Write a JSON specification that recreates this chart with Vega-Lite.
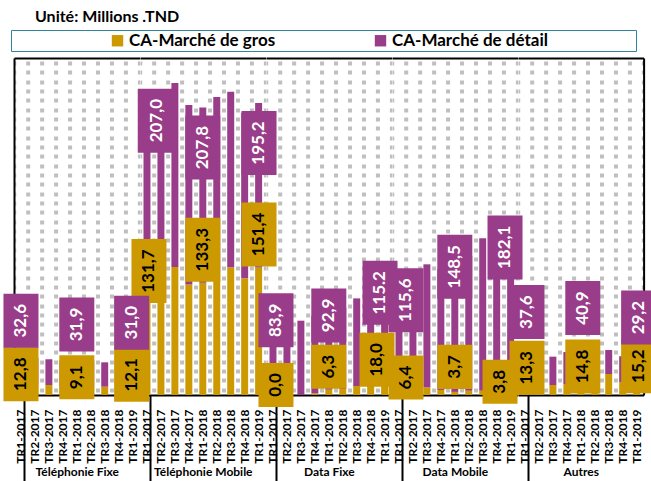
{
  "$schema": "https://vega.github.io/schema/vega-lite/v6.json",
  "background": "white",
  "padding": {"left": 3, "top": 8, "right": 4, "bottom": 0},
  "bounds": "flush",
  "title": {"text": "Unité: Millions .TND", "anchor": "start", "frame": "group", "font": "Lato", "fontSize": 16, "fontWeight": "bold", "color": "black", "dx": 21, "offset": 5},
  "data": {"values": [
    {"group": "Téléphonie Fixe", "q": "TR1-2017", "gros": 12.8, "detail": 32.6},
    {"group": "Téléphonie Fixe", "q": "TR2-2017", "gros": 12.0, "detail": 32.0},
    {"group": "Téléphonie Fixe", "q": "TR3-2017", "gros": 11.9, "detail": 30.5},
    {"group": "Téléphonie Fixe", "q": "TR4-2017", "gros": 10.0, "detail": 31.0},
    {"group": "Téléphonie Fixe", "q": "TR1-2018", "gros": 9.1, "detail": 31.9},
    {"group": "Téléphonie Fixe", "q": "TR2-2018", "gros": 10.0, "detail": 31.0},
    {"group": "Téléphonie Fixe", "q": "TR3-2018", "gros": 9.9, "detail": 28.9},
    {"group": "Téléphonie Fixe", "q": "TR4-2018", "gros": 11.0, "detail": 30.5},
    {"group": "Téléphonie Fixe", "q": "TR1-2019", "gros": 12.1, "detail": 31.0},
    {"group": "Téléphonie Mobile", "q": "TR1-2017", "gros": 131.7, "detail": 207.0},
    {"group": "Téléphonie Mobile", "q": "TR2-2017", "gros": 135.0, "detail": 210.0},
    {"group": "Téléphonie Mobile", "q": "TR3-2017", "gros": 152.0, "detail": 218.3},
    {"group": "Téléphonie Mobile", "q": "TR4-2017", "gros": 131.2, "detail": 213.0},
    {"group": "Téléphonie Mobile", "q": "TR1-2018", "gros": 133.3, "detail": 207.8},
    {"group": "Téléphonie Mobile", "q": "TR2-2018", "gros": 145.0, "detail": 208.7},
    {"group": "Téléphonie Mobile", "q": "TR3-2018", "gros": 151.6, "detail": 208.4},
    {"group": "Téléphonie Mobile", "q": "TR4-2018", "gros": 138.5, "detail": 196.5},
    {"group": "Téléphonie Mobile", "q": "TR1-2019", "gros": 151.4, "detail": 195.2},
    {"group": "Data Fixe", "q": "TR1-2017", "gros": 0.0, "detail": 83.9},
    {"group": "Data Fixe", "q": "TR2-2017", "gros": 0.0, "detail": 86.0},
    {"group": "Data Fixe", "q": "TR3-2017", "gros": 0.0, "detail": 88.2},
    {"group": "Data Fixe", "q": "TR4-2017", "gros": 2.0, "detail": 92.0},
    {"group": "Data Fixe", "q": "TR1-2018", "gros": 6.3, "detail": 92.9},
    {"group": "Data Fixe", "q": "TR2-2018", "gros": 7.0, "detail": 97.0},
    {"group": "Data Fixe", "q": "TR3-2018", "gros": 10.7, "detail": 104.0},
    {"group": "Data Fixe", "q": "TR4-2018", "gros": 15.0, "detail": 110.0},
    {"group": "Data Fixe", "q": "TR1-2019", "gros": 18.0, "detail": 115.2},
    {"group": "Data Mobile", "q": "TR1-2017", "gros": 6.4, "detail": 115.6},
    {"group": "Data Mobile", "q": "TR2-2017", "gros": 5.0, "detail": 120.0},
    {"group": "Data Mobile", "q": "TR3-2017", "gros": 9.1, "detail": 146.0},
    {"group": "Data Mobile", "q": "TR4-2017", "gros": 6.0, "detail": 143.5},
    {"group": "Data Mobile", "q": "TR1-2018", "gros": 3.7, "detail": 148.5},
    {"group": "Data Mobile", "q": "TR2-2018", "gros": 5.0, "detail": 160.0},
    {"group": "Data Mobile", "q": "TR3-2018", "gros": 5.0, "detail": 181.0},
    {"group": "Data Mobile", "q": "TR4-2018", "gros": 5.0, "detail": 185.0},
    {"group": "Data Mobile", "q": "TR1-2019", "gros": 3.8, "detail": 182.1},
    {"group": "Autres", "q": "TR1-2017", "gros": 13.3, "detail": 37.6},
    {"group": "Autres", "q": "TR2-2017", "gros": 12.0, "detail": 35.0},
    {"group": "Autres", "q": "TR3-2017", "gros": 11.9, "detail": 33.6},
    {"group": "Autres", "q": "TR4-2017", "gros": 13.0, "detail": 38.0},
    {"group": "Autres", "q": "TR1-2018", "gros": 14.8, "detail": 40.9},
    {"group": "Autres", "q": "TR2-2018", "gros": 14.0, "detail": 39.0},
    {"group": "Autres", "q": "TR3-2018", "gros": 24.9, "detail": 28.5},
    {"group": "Autres", "q": "TR4-2018", "gros": 15.0, "detail": 31.0},
    {"group": "Autres", "q": "TR1-2019", "gros": 15.2, "detail": 29.2}
  ]},
  "transform": [
    {"fold": ["gros", "detail"], "as": ["serie", "value"]},
    {"stack": "value", "groupby": ["group", "q"], "sort": [{"field": "serie", "order": "descending"}], "as": ["y0", "y1"]}
  ],
  "spacing": 0,
  "resolve": {"scale": {"color": "shared"}, "legend": {"color": "shared"}},
  "hconcat": [
    {
      "width": 125.6, "height": 337,
      "encoding": {
        "x": {"field": "q", "type": "nominal", "sort": ["TR1-2017","TR2-2017","TR3-2017","TR4-2017","TR1-2018","TR2-2018","TR3-2018","TR4-2018","TR1-2019"], "scale": {"paddingInner": 0.5, "paddingOuter": 0.25},
          "axis": {"title": "Téléphonie Fixe", "labelAngle": 270, "labelFont": "Lato", "labelFontWeight": "bold", "labelFontSize": 12, "labelColor": "black", "labelPadding": -72, "domainColor": "black", "domainWidth": 2, "tickBand": "extent", "tickSize": 86, "tickColor": "black", "tickWidth": 2, "tickOpacity": {"condition": {"test": "datum.value === 'TR1-2017'", "value": 1}, "value": 0}, "titleFont": "Lato", "titleFontWeight": "bold", "titleFontSize": 12, "titleColor": "black", "titleY": 71, "titleBaseline": "top", "grid": false}},
        "y": {"field": "y1", "type": "quantitative", "scale": {"domain": [0, 400]},
          "axis": {"minExtent": 0, "maxExtent": 0, "offset": 0, "values": [400,394.1,383.0,371.9,360.9,349.8,338.7,327.6,316.5,305.5,294.4,283.3,272.2,261.1,250.1,239.0,227.9,216.8,205.7,194.7,183.6,172.5,161.4,150.3,139.3,128.2,117.1,106.0,94.9,83.9,72.8,61.7,50.6,39.5,28.5,17.4,6.3], "domain": true, "domainColor": "black", "domainWidth": 2, "labels": false, "ticks": false, "title": null, "grid": true, "gridColor": {"condition": {"test": "datum.value === 400", "value": "black"}, "value": "#BFBFBF"}, "gridDash": {"condition": {"test": "datum.value === 400", "value": []}, "value": [4, 9.96]}, "gridWidth": {"condition": {"test": "datum.value === 400", "value": 2}, "value": 4}, "gridDashOffset": 2.26}}
      },
      "layer": [
        {"transform": [{"filter": "datum.group === 'Téléphonie Fixe'"}], "mark": {"type": "bar"}, "encoding": {"y2": {"field": "y0"}, "color": {"field": "serie", "type": "nominal", "scale": {"domain": ["gros", "detail"], "range": ["#CC9900", "#993C89"]},
          "legend": {"orient": "none", "legendX": -3, "legendY": -28, "direction": "horizontal", "title": "\u00a0", "titleOrient": "right", "titlePadding": 86, "titleFontSize": 17, "symbolType": "square", "symbolSize": 130, "symbolStrokeWidth": 0, "symbolOpacity": 1, "labelFont": "Lato", "labelFontWeight": "bold", "labelFontSize": 17, "labelColor": "black", "labelOffset": 3, "labelLimit": 500, "strokeColor": "#31849B", "fillColor": "white", "padding": 2, "symbolOffset": 96, "columnPadding": 0, "labelExpr": "datum.label === 'gros' ? 'CA-Marché de gros' : 'CA-Marché de détail'"}}}},
        {"transform": [{"filter": "datum.group === 'Téléphonie Fixe' && datum.serie === 'gros' && (datum.q === 'TR1-2017' || datum.q === 'TR1-2018')"}], "mark": {"type": "point", "filled": true, "opacity": 1, "size": 4096, "strokeWidth": 0, "color": "#CC9900", "yOffset": -10},
          "encoding": {"shape": {"condition": {"test": "datum.value >= 10", "value": "M-0.547,-0.844H0.547V0.844H-0.547Z"}, "value": "M-0.547,-0.688H0.547V0.688H-0.547Z"}}},
        {"transform": [{"filter": "datum.group === 'Téléphonie Fixe' && datum.serie === 'gros' && (datum.q === 'TR1-2017' || datum.q === 'TR1-2018')"}], "mark": {"type": "text", "angle": 270, "font": "Lato", "fontWeight": "bold", "fontSize": 17, "color": "black", "align": "center", "baseline": "middle", "yOffset": -10},
          "encoding": {"text": {"field": "value", "type": "quantitative", "format": ".1f"}}},
        {"transform": [{"filter": "datum.group === 'Téléphonie Fixe' && datum.serie === 'detail' && (datum.q === 'TR1-2017' || datum.q === 'TR1-2018')"}], "mark": {"type": "point", "filled": true, "opacity": 1, "size": 4096, "strokeWidth": 0, "color": "#993C89", "yOffset": -36},
          "encoding": {"shape": {"value": "M-0.547,-0.844H0.547V0.844H-0.547Z"}}},
        {"transform": [{"filter": "datum.group === 'Téléphonie Fixe' && datum.serie === 'detail' && (datum.q === 'TR1-2017' || datum.q === 'TR1-2018')"}], "mark": {"type": "text", "angle": 270, "font": "Lato", "fontWeight": "bold", "fontSize": 17, "color": "white", "align": "center", "baseline": "middle", "yOffset": -36},
          "encoding": {"text": {"field": "value", "type": "quantitative", "format": ".1f"}}}
      ]
    },
    {
      "width": 125.6, "height": 337,
      "encoding": {
        "x": {"field": "q", "type": "nominal", "sort": ["TR1-2017","TR2-2017","TR3-2017","TR4-2017","TR1-2018","TR2-2018","TR3-2018","TR4-2018","TR1-2019"], "scale": {"paddingInner": 0.5, "paddingOuter": 0.25},
          "axis": {"title": "Téléphonie Mobile", "labelAngle": 270, "labelFont": "Lato", "labelFontWeight": "bold", "labelFontSize": 12, "labelColor": "black", "labelPadding": -72, "domainColor": "black", "domainWidth": 2, "tickBand": "extent", "tickSize": 86, "tickColor": "black", "tickWidth": 2, "tickOpacity": {"condition": {"test": "datum.value === 'TR1-2017'", "value": 1}, "value": 0}, "titleFont": "Lato", "titleFontWeight": "bold", "titleFontSize": 12, "titleColor": "black", "titleY": 71, "titleBaseline": "top", "grid": false}},
        "y": {"field": "y1", "type": "quantitative", "scale": {"domain": [0, 400]},
          "axis": {"minExtent": 0, "maxExtent": 0, "offset": 0, "values": [400,394.1,383.0,371.9,360.9,349.8,338.7,327.6,316.5,305.5,294.4,283.3,272.2,261.1,250.1,239.0,227.9,216.8,205.7,194.7,183.6,172.5,161.4,150.3,139.3,128.2,117.1,106.0,94.9,83.9,72.8,61.7,50.6,39.5,28.5,17.4,6.3], "domain": false, "labels": false, "ticks": false, "title": null, "grid": true, "gridColor": {"condition": {"test": "datum.value === 400", "value": "black"}, "value": "#BFBFBF"}, "gridDash": {"condition": {"test": "datum.value === 400", "value": []}, "value": [4, 9.96]}, "gridWidth": {"condition": {"test": "datum.value === 400", "value": 2}, "value": 4}, "gridDashOffset": 2.26}}
      },
      "layer": [
        {"transform": [{"filter": "datum.group === 'Téléphonie Mobile'"}], "mark": {"type": "bar"}, "encoding": {"y2": {"field": "y0"}, "color": {"field": "serie", "type": "nominal", "scale": {"domain": ["gros", "detail"], "range": ["#CC9900", "#993C89"]},
          "legend": {"orient": "none", "legendX": -3, "legendY": -28, "direction": "horizontal", "title": "\u00a0", "titleOrient": "right", "titlePadding": 86, "titleFontSize": 17, "symbolType": "square", "symbolSize": 130, "symbolStrokeWidth": 0, "symbolOpacity": 1, "labelFont": "Lato", "labelFontWeight": "bold", "labelFontSize": 17, "labelColor": "black", "labelOffset": 3, "labelLimit": 500, "strokeColor": "#31849B", "fillColor": "white", "padding": 2, "symbolOffset": 96, "columnPadding": 0, "labelExpr": "datum.label === 'gros' ? 'CA-Marché de gros' : 'CA-Marché de détail'"}}}},
        {"transform": [{"filter": "datum.group === 'Téléphonie Mobile' && datum.serie === 'gros' && datum.q === 'TR1-2017'"}], "mark": {"type": "point", "filled": true, "opacity": 1, "size": 4096, "strokeWidth": 0, "color": "#CC9900", "yOffset": -13, "xOffset": 2},
          "encoding": {"shape": {"value": "M-0.547,-1H0.547V1H-0.547Z"}}},
        {"transform": [{"filter": "datum.group === 'Téléphonie Mobile' && datum.serie === 'gros' && datum.q === 'TR1-2017'"}], "mark": {"type": "text", "angle": 270, "font": "Lato", "fontWeight": "bold", "fontSize": 17, "color": "black", "align": "center", "baseline": "middle", "yOffset": -13, "xOffset": 2},
          "encoding": {"text": {"field": "value", "type": "quantitative", "format": ".1f"}}},
        {"transform": [{"filter": "datum.group === 'Téléphonie Mobile' && datum.serie === 'gros' && datum.q === 'TR1-2018'"}], "mark": {"type": "point", "filled": true, "opacity": 1, "size": 4096, "strokeWidth": 0, "color": "#CC9900", "yOffset": -33},
          "encoding": {"shape": {"value": "M-0.547,-1H0.547V1H-0.547Z"}}},
        {"transform": [{"filter": "datum.group === 'Téléphonie Mobile' && datum.serie === 'gros' && datum.q === 'TR1-2018'"}], "mark": {"type": "text", "angle": 270, "font": "Lato", "fontWeight": "bold", "fontSize": 17, "color": "black", "align": "center", "baseline": "middle", "yOffset": -33},
          "encoding": {"text": {"field": "value", "type": "quantitative", "format": ".1f"}}},
        {"transform": [{"filter": "datum.group === 'Téléphonie Mobile' && datum.serie === 'detail' && datum.q === 'TR1-2017'"}], "mark": {"type": "point", "filled": true, "opacity": 1, "size": 4096, "strokeWidth": 0, "color": "#993C89", "yOffset": 11, "xOffset": 10},
          "encoding": {"shape": {"value": "M-0.6,-1H0.6V1H-0.6Z"}}},
        {"transform": [{"filter": "datum.group === 'Téléphonie Mobile' && datum.serie === 'detail' && datum.q === 'TR1-2017'"}], "mark": {"type": "text", "angle": 270, "font": "Lato", "fontWeight": "bold", "fontSize": 17, "color": "white", "align": "center", "baseline": "middle", "yOffset": 11, "xOffset": 10},
          "encoding": {"text": {"field": "value", "type": "quantitative", "format": ".1f"}}},
        {"transform": [{"filter": "datum.group === 'Téléphonie Mobile' && datum.serie === 'detail' && datum.q === 'TR1-2018'"}], "mark": {"type": "point", "filled": true, "opacity": 1, "size": 4096, "strokeWidth": 0, "color": "#993C89", "yOffset": 40},
          "encoding": {"shape": {"value": "M-0.547,-1H0.547V1H-0.547Z"}}},
        {"transform": [{"filter": "datum.group === 'Téléphonie Mobile' && datum.serie === 'detail' && datum.q === 'TR1-2018'"}], "mark": {"type": "text", "angle": 270, "font": "Lato", "fontWeight": "bold", "fontSize": 17, "color": "white", "align": "center", "baseline": "middle", "yOffset": 40},
          "encoding": {"text": {"field": "value", "type": "quantitative", "format": ".1f"}}},
        {"transform": [{"filter": "datum.group === 'Téléphonie Fixe' && datum.serie === 'gros' && datum.q === 'TR1-2019'"}], "mark": {"type": "point", "filled": true, "opacity": 1, "size": 4096, "strokeWidth": 0, "color": "#CC9900", "yOffset": -10, "xOffset": -127},
          "encoding": {"shape": {"value": "M-0.547,-0.844H0.547V0.844H-0.547Z"}}},
        {"transform": [{"filter": "datum.group === 'Téléphonie Fixe' && datum.serie === 'gros' && datum.q === 'TR1-2019'"}], "mark": {"type": "text", "angle": 270, "font": "Lato", "fontWeight": "bold", "fontSize": 17, "color": "black", "align": "center", "baseline": "middle", "yOffset": -10, "xOffset": -127},
          "encoding": {"text": {"field": "value", "type": "quantitative", "format": ".1f"}}},
        {"transform": [{"filter": "datum.group === 'Téléphonie Fixe' && datum.serie === 'detail' && datum.q === 'TR1-2019'"}], "mark": {"type": "point", "filled": true, "opacity": 1, "size": 4096, "strokeWidth": 0, "color": "#993C89", "yOffset": -36, "xOffset": -127},
          "encoding": {"shape": {"value": "M-0.547,-0.844H0.547V0.844H-0.547Z"}}},
        {"transform": [{"filter": "datum.group === 'Téléphonie Fixe' && datum.serie === 'detail' && datum.q === 'TR1-2019'"}], "mark": {"type": "text", "angle": 270, "font": "Lato", "fontWeight": "bold", "fontSize": 17, "color": "white", "align": "center", "baseline": "middle", "yOffset": -36, "xOffset": -127},
          "encoding": {"text": {"field": "value", "type": "quantitative", "format": ".1f"}}}
      ]
    },
    {
      "width": 125.6, "height": 337,
      "encoding": {
        "x": {"field": "q", "type": "nominal", "sort": ["TR1-2017","TR2-2017","TR3-2017","TR4-2017","TR1-2018","TR2-2018","TR3-2018","TR4-2018","TR1-2019"], "scale": {"paddingInner": 0.5, "paddingOuter": 0.25},
          "axis": {"title": "Data Fixe", "labelAngle": 270, "labelFont": "Lato", "labelFontWeight": "bold", "labelFontSize": 12, "labelColor": "black", "labelPadding": -72, "domainColor": "black", "domainWidth": 2, "tickBand": "extent", "tickSize": 86, "tickColor": "black", "tickWidth": 2, "tickOpacity": {"condition": {"test": "datum.value === 'TR1-2017'", "value": 1}, "value": 0}, "titleFont": "Lato", "titleFontWeight": "bold", "titleFontSize": 12, "titleColor": "black", "titleY": 71, "titleBaseline": "top", "grid": false}},
        "y": {"field": "y1", "type": "quantitative", "scale": {"domain": [0, 400]},
          "axis": {"minExtent": 0, "maxExtent": 0, "offset": 0, "values": [400,394.1,383.0,371.9,360.9,349.8,338.7,327.6,316.5,305.5,294.4,283.3,272.2,261.1,250.1,239.0,227.9,216.8,205.7,194.7,183.6,172.5,161.4,150.3,139.3,128.2,117.1,106.0,94.9,83.9,72.8,61.7,50.6,39.5,28.5,17.4,6.3], "domain": false, "labels": false, "ticks": false, "title": null, "grid": true, "gridColor": {"condition": {"test": "datum.value === 400", "value": "black"}, "value": "#BFBFBF"}, "gridDash": {"condition": {"test": "datum.value === 400", "value": []}, "value": [4, 9.96]}, "gridWidth": {"condition": {"test": "datum.value === 400", "value": 2}, "value": 4}, "gridDashOffset": 2.26}}
      },
      "layer": [
        {"transform": [{"filter": "datum.group === 'Data Fixe'"}], "mark": {"type": "bar"}, "encoding": {"y2": {"field": "y0"}, "color": {"field": "serie", "type": "nominal", "scale": {"domain": ["gros", "detail"], "range": ["#CC9900", "#993C89"]},
          "legend": {"orient": "none", "legendX": -3, "legendY": -28, "direction": "horizontal", "title": "\u00a0", "titleOrient": "right", "titlePadding": 86, "titleFontSize": 17, "symbolType": "square", "symbolSize": 130, "symbolStrokeWidth": 0, "symbolOpacity": 1, "labelFont": "Lato", "labelFontWeight": "bold", "labelFontSize": 17, "labelColor": "black", "labelOffset": 3, "labelLimit": 500, "strokeColor": "#31849B", "fillColor": "white", "padding": 2, "symbolOffset": 96, "columnPadding": 0, "labelExpr": "datum.label === 'gros' ? 'CA-Marché de gros' : 'CA-Marché de détail'"}}}},
        {"transform": [{"filter": "datum.group === 'Data Fixe' && datum.serie === 'gros' && datum.q === 'TR1-2017'"}], "mark": {"type": "point", "filled": true, "opacity": 1, "size": 4096, "strokeWidth": 0, "color": "#CC9900", "yOffset": -10, "xOffset": 3},
          "encoding": {"shape": {"value": "M-0.547,-0.688H0.547V0.688H-0.547Z"}}},
        {"transform": [{"filter": "datum.group === 'Data Fixe' && datum.serie === 'gros' && datum.q === 'TR1-2017'"}], "mark": {"type": "text", "angle": 270, "font": "Lato", "fontWeight": "bold", "fontSize": 17, "color": "black", "align": "center", "baseline": "middle", "yOffset": -10, "xOffset": 3},
          "encoding": {"text": {"field": "value", "type": "quantitative", "format": ".1f"}}},
        {"transform": [{"filter": "datum.group === 'Data Fixe' && datum.serie === 'gros' && datum.q === 'TR1-2018'"}], "mark": {"type": "point", "filled": true, "opacity": 1, "size": 4096, "strokeWidth": 0, "color": "#CC9900", "yOffset": -23},
          "encoding": {"shape": {"value": "M-0.547,-0.688H0.547V0.688H-0.547Z"}}},
        {"transform": [{"filter": "datum.group === 'Data Fixe' && datum.serie === 'gros' && datum.q === 'TR1-2018'"}], "mark": {"type": "text", "angle": 270, "font": "Lato", "fontWeight": "bold", "fontSize": 17, "color": "black", "align": "center", "baseline": "middle", "yOffset": -23},
          "encoding": {"text": {"field": "value", "type": "quantitative", "format": ".1f"}}},
        {"transform": [{"filter": "datum.group === 'Data Fixe' && datum.serie === 'detail' && datum.q === 'TR1-2017'"}], "mark": {"type": "point", "filled": true, "opacity": 1, "size": 4096, "strokeWidth": 0, "color": "#993C89", "yOffset": -4, "xOffset": 3},
          "encoding": {"shape": {"value": "M-0.547,-0.844H0.547V0.844H-0.547Z"}}},
        {"transform": [{"filter": "datum.group === 'Data Fixe' && datum.serie === 'detail' && datum.q === 'TR1-2017'"}], "mark": {"type": "text", "angle": 270, "font": "Lato", "fontWeight": "bold", "fontSize": 17, "color": "white", "align": "center", "baseline": "middle", "yOffset": -4, "xOffset": 3},
          "encoding": {"text": {"field": "value", "type": "quantitative", "format": ".1f"}}},
        {"transform": [{"filter": "datum.group === 'Data Fixe' && datum.serie === 'detail' && datum.q === 'TR1-2018'"}], "mark": {"type": "point", "filled": true, "opacity": 1, "size": 4096, "strokeWidth": 0, "color": "#993C89", "yOffset": 4},
          "encoding": {"shape": {"value": "M-0.547,-0.844H0.547V0.844H-0.547Z"}}},
        {"transform": [{"filter": "datum.group === 'Data Fixe' && datum.serie === 'detail' && datum.q === 'TR1-2018'"}], "mark": {"type": "text", "angle": 270, "font": "Lato", "fontWeight": "bold", "fontSize": 17, "color": "white", "align": "center", "baseline": "middle", "yOffset": 4},
          "encoding": {"text": {"field": "value", "type": "quantitative", "format": ".1f"}}},
        {"transform": [{"filter": "datum.group === 'Téléphonie Mobile' && datum.serie === 'gros' && datum.q === 'TR1-2019'"}], "mark": {"type": "point", "filled": true, "opacity": 1, "size": 4096, "strokeWidth": 0, "color": "#CC9900", "yOffset": -33, "xOffset": -125.6},
          "encoding": {"shape": {"value": "M-0.547,-1H0.547V1H-0.547Z"}}},
        {"transform": [{"filter": "datum.group === 'Téléphonie Mobile' && datum.serie === 'gros' && datum.q === 'TR1-2019'"}], "mark": {"type": "text", "angle": 270, "font": "Lato", "fontWeight": "bold", "fontSize": 17, "color": "black", "align": "center", "baseline": "middle", "yOffset": -33, "xOffset": -125.6},
          "encoding": {"text": {"field": "value", "type": "quantitative", "format": ".1f"}}},
        {"transform": [{"filter": "datum.group === 'Téléphonie Mobile' && datum.serie === 'detail' && datum.q === 'TR1-2019'"}], "mark": {"type": "point", "filled": true, "opacity": 1, "size": 4096, "strokeWidth": 0, "color": "#993C89", "yOffset": 40, "xOffset": -125.6},
          "encoding": {"shape": {"value": "M-0.547,-1H0.547V1H-0.547Z"}}},
        {"transform": [{"filter": "datum.group === 'Téléphonie Mobile' && datum.serie === 'detail' && datum.q === 'TR1-2019'"}], "mark": {"type": "text", "angle": 270, "font": "Lato", "fontWeight": "bold", "fontSize": 17, "color": "white", "align": "center", "baseline": "middle", "yOffset": 40, "xOffset": -125.6},
          "encoding": {"text": {"field": "value", "type": "quantitative", "format": ".1f"}}}
      ]
    },
    {
      "width": 125.6, "height": 337,
      "encoding": {
        "x": {"field": "q", "type": "nominal", "sort": ["TR1-2017","TR2-2017","TR3-2017","TR4-2017","TR1-2018","TR2-2018","TR3-2018","TR4-2018","TR1-2019"], "scale": {"paddingInner": 0.5, "paddingOuter": 0.25},
          "axis": {"title": "Data Mobile", "labelAngle": 270, "labelFont": "Lato", "labelFontWeight": "bold", "labelFontSize": 12, "labelColor": "black", "labelPadding": -72, "domainColor": "black", "domainWidth": 2, "tickBand": "extent", "tickSize": 86, "tickColor": "black", "tickWidth": 2, "tickOpacity": {"condition": {"test": "datum.value === 'TR1-2017'", "value": 1}, "value": 0}, "titleFont": "Lato", "titleFontWeight": "bold", "titleFontSize": 12, "titleColor": "black", "titleY": 71, "titleBaseline": "top", "grid": false}},
        "y": {"field": "y1", "type": "quantitative", "scale": {"domain": [0, 400]},
          "axis": {"minExtent": 0, "maxExtent": 0, "offset": 0, "values": [400,394.1,383.0,371.9,360.9,349.8,338.7,327.6,316.5,305.5,294.4,283.3,272.2,261.1,250.1,239.0,227.9,216.8,205.7,194.7,183.6,172.5,161.4,150.3,139.3,128.2,117.1,106.0,94.9,83.9,72.8,61.7,50.6,39.5,28.5,17.4,6.3], "domain": false, "labels": false, "ticks": false, "title": null, "grid": true, "gridColor": {"condition": {"test": "datum.value === 400", "value": "black"}, "value": "#BFBFBF"}, "gridDash": {"condition": {"test": "datum.value === 400", "value": []}, "value": [4, 9.96]}, "gridWidth": {"condition": {"test": "datum.value === 400", "value": 2}, "value": 4}, "gridDashOffset": 2.26}}
      },
      "layer": [
        {"transform": [{"filter": "datum.group === 'Data Mobile'"}], "mark": {"type": "bar"}, "encoding": {"y2": {"field": "y0"}, "color": {"field": "serie", "type": "nominal", "scale": {"domain": ["gros", "detail"], "range": ["#CC9900", "#993C89"]},
          "legend": {"orient": "none", "legendX": -3, "legendY": -28, "direction": "horizontal", "title": "\u00a0", "titleOrient": "right", "titlePadding": 86, "titleFontSize": 17, "symbolType": "square", "symbolSize": 130, "symbolStrokeWidth": 0, "symbolOpacity": 1, "labelFont": "Lato", "labelFontWeight": "bold", "labelFontSize": 17, "labelColor": "black", "labelOffset": 3, "labelLimit": 500, "strokeColor": "#31849B", "fillColor": "white", "padding": 2, "symbolOffset": 96, "columnPadding": 0, "labelExpr": "datum.label === 'gros' ? 'CA-Marché de gros' : 'CA-Marché de détail'"}}}},
        {"transform": [{"filter": "datum.group === 'Data Fixe' && datum.serie === 'gros' && datum.q === 'TR1-2019'"}], "mark": {"type": "point", "filled": true, "opacity": 1, "size": 4096, "strokeWidth": 0, "color": "#CC9900", "yOffset": -20, "xOffset": -133.6},
          "encoding": {"shape": {"value": "M-0.547,-0.844H0.547V0.844H-0.547Z"}}},
        {"transform": [{"filter": "datum.group === 'Data Fixe' && datum.serie === 'gros' && datum.q === 'TR1-2019'"}], "mark": {"type": "text", "angle": 270, "font": "Lato", "fontWeight": "bold", "fontSize": 17, "color": "black", "align": "center", "baseline": "middle", "yOffset": -20, "xOffset": -133.6},
          "encoding": {"text": {"field": "value", "type": "quantitative", "format": ".1f"}}},
        {"transform": [{"filter": "datum.group === 'Data Fixe' && datum.serie === 'detail' && datum.q === 'TR1-2019'"}], "mark": {"type": "point", "filled": true, "opacity": 1, "size": 4096, "strokeWidth": 0, "color": "#993C89", "yOffset": 10, "xOffset": -130.6},
          "encoding": {"shape": {"value": "M-0.547,-1H0.547V1H-0.547Z"}}},
        {"transform": [{"filter": "datum.group === 'Data Fixe' && datum.serie === 'detail' && datum.q === 'TR1-2019'"}], "mark": {"type": "text", "angle": 270, "font": "Lato", "fontWeight": "bold", "fontSize": 17, "color": "white", "align": "center", "baseline": "middle", "yOffset": 10, "xOffset": -130.6},
          "encoding": {"text": {"condition": {"test": "datum.value === 115.2", "value": "115.2"}, "field": "value", "type": "quantitative", "format": ".1f"}}},
        {"transform": [{"filter": "datum.group === 'Data Mobile' && datum.serie === 'gros' && datum.q === 'TR1-2017'"}], "mark": {"type": "point", "filled": true, "opacity": 1, "size": 4096, "strokeWidth": 0, "color": "#CC9900", "yOffset": -12, "xOffset": 7},
          "encoding": {"shape": {"value": "M-0.547,-0.688H0.547V0.688H-0.547Z"}}},
        {"transform": [{"filter": "datum.group === 'Data Mobile' && datum.serie === 'gros' && datum.q === 'TR1-2017'"}], "mark": {"type": "text", "angle": 270, "font": "Lato", "fontWeight": "bold", "fontSize": 17, "color": "black", "align": "center", "baseline": "middle", "yOffset": -12, "xOffset": 7},
          "encoding": {"text": {"field": "value", "type": "quantitative", "format": ".1f"}}},
        {"transform": [{"filter": "datum.group === 'Data Mobile' && datum.serie === 'gros' && datum.q === 'TR1-2018'"}], "mark": {"type": "point", "filled": true, "opacity": 1, "size": 4096, "strokeWidth": 0, "color": "#CC9900", "yOffset": -25},
          "encoding": {"shape": {"value": "M-0.547,-0.688H0.547V0.688H-0.547Z"}}},
        {"transform": [{"filter": "datum.group === 'Data Mobile' && datum.serie === 'gros' && datum.q === 'TR1-2018'"}], "mark": {"type": "text", "angle": 270, "font": "Lato", "fontWeight": "bold", "fontSize": 17, "color": "black", "align": "center", "baseline": "middle", "yOffset": -25},
          "encoding": {"text": {"field": "value", "type": "quantitative", "format": ".1f"}}},
        {"transform": [{"filter": "datum.group === 'Data Mobile' && datum.serie === 'detail' && datum.q === 'TR1-2017'"}], "mark": {"type": "point", "filled": true, "opacity": 1, "size": 4096, "strokeWidth": 0, "color": "#993C89", "yOffset": 8, "xOffset": 7},
          "encoding": {"shape": {"value": "M-0.547,-1H0.547V1H-0.547Z"}}},
        {"transform": [{"filter": "datum.group === 'Data Mobile' && datum.serie === 'detail' && datum.q === 'TR1-2017'"}], "mark": {"type": "text", "angle": 270, "font": "Lato", "fontWeight": "bold", "fontSize": 17, "color": "white", "align": "center", "baseline": "middle", "yOffset": 8, "xOffset": 7},
          "encoding": {"text": {"field": "value", "type": "quantitative", "format": ".1f"}}},
        {"transform": [{"filter": "datum.group === 'Data Mobile' && datum.serie === 'detail' && datum.q === 'TR1-2018'"}], "mark": {"type": "point", "filled": true, "opacity": 1, "size": 4096, "strokeWidth": 0, "color": "#993C89", "yOffset": 0},
          "encoding": {"shape": {"value": "M-0.547,-1H0.547V1H-0.547Z"}}},
        {"transform": [{"filter": "datum.group === 'Data Mobile' && datum.serie === 'detail' && datum.q === 'TR1-2018'"}], "mark": {"type": "text", "angle": 270, "font": "Lato", "fontWeight": "bold", "fontSize": 17, "color": "white", "align": "center", "baseline": "middle", "yOffset": 0},
          "encoding": {"text": {"field": "value", "type": "quantitative", "format": ".1f"}}}
      ]
    },
    {
      "width": 125.6, "height": 337,
      "resolve": {"axis": {"y": "independent"}},
      "encoding": {
        "x": {"field": "q", "type": "nominal", "sort": ["TR1-2017","TR2-2017","TR3-2017","TR4-2017","TR1-2018","TR2-2018","TR3-2018","TR4-2018","TR1-2019"], "scale": {"paddingInner": 0.5, "paddingOuter": 0.25},
          "axis": {"title": "Autres", "labelAngle": 270, "labelFont": "Lato", "labelFontWeight": "bold", "labelFontSize": 12, "labelColor": "black", "labelPadding": -72, "domainColor": "black", "domainWidth": 2, "tickBand": "extent", "tickSize": 86, "tickColor": "black", "tickWidth": 2, "tickOpacity": {"condition": {"test": "datum.value === 'TR1-2017'", "value": 1}, "value": 0}, "titleFont": "Lato", "titleFontWeight": "bold", "titleFontSize": 12, "titleColor": "black", "titleY": 71, "titleBaseline": "top", "grid": false}}
      },
      "layer": [
        {"transform": [{"filter": "datum.group === 'Autres'"}], "mark": {"type": "bar"}, "encoding": {
          "y": {"field": "y1", "type": "quantitative", "scale": {"domain": [0, 400]},
            "axis": {"orient": "left", "minExtent": 0, "maxExtent": 0, "offset": 0, "values": [400,394.1,383.0,371.9,360.9,349.8,338.7,327.6,316.5,305.5,294.4,283.3,272.2,261.1,250.1,239.0,227.9,216.8,205.7,194.7,183.6,172.5,161.4,150.3,139.3,128.2,117.1,106.0,94.9,83.9,72.8,61.7,50.6,39.5,28.5,17.4,6.3], "domain": false, "labels": false, "ticks": false, "title": null, "grid": true, "gridColor": {"condition": {"test": "datum.value === 400", "value": "black"}, "value": "#BFBFBF"}, "gridDash": {"condition": {"test": "datum.value === 400", "value": []}, "value": [4, 9.96]}, "gridWidth": {"condition": {"test": "datum.value === 400", "value": 2}, "value": 4}, "gridDashOffset": 2.26}},
          "y2": {"field": "y0"}, "color": {"field": "serie", "type": "nominal", "scale": {"domain": ["gros", "detail"], "range": ["#CC9900", "#993C89"]},
          "legend": {"orient": "none", "legendX": -3, "legendY": -28, "direction": "horizontal", "title": "\u00a0", "titleOrient": "right", "titlePadding": 86, "titleFontSize": 17, "symbolType": "square", "symbolSize": 130, "symbolStrokeWidth": 0, "symbolOpacity": 1, "labelFont": "Lato", "labelFontWeight": "bold", "labelFontSize": 17, "labelColor": "black", "labelOffset": 3, "labelLimit": 500, "strokeColor": "#31849B", "fillColor": "white", "padding": 2, "symbolOffset": 96, "columnPadding": 0, "labelExpr": "datum.label === 'gros' ? 'CA-Marché de gros' : 'CA-Marché de détail'"}}}},
        {"transform": [{"filter": "datum.group === 'Autres' && datum.serie === 'gros' && indexof(datum.q, 'TR1') === 0"}], "mark": {"type": "point", "filled": true, "opacity": 1, "size": 4096, "strokeWidth": 0, "color": "#CC9900", "yOffset": -16, "xOffset": 2},
          "encoding": {"y": {"field": "y1", "type": "quantitative", "axis": null}, "shape": {"value": "M-0.547,-0.844H0.547V0.844H-0.547Z"}}},
        {"transform": [{"filter": "datum.group === 'Autres' && datum.serie === 'gros' && indexof(datum.q, 'TR1') === 0"}], "mark": {"type": "text", "angle": 270, "font": "Lato", "fontWeight": "bold", "fontSize": 17, "color": "black", "align": "center", "baseline": "middle", "yOffset": -16, "xOffset": 2},
          "encoding": {"y": {"field": "y1", "type": "quantitative", "axis": null}, "text": {"field": "value", "type": "quantitative", "format": ".1f"}}},
        {"transform": [{"filter": "datum.group === 'Autres' && datum.serie === 'detail' && indexof(datum.q, 'TR1') === 0"}], "mark": {"type": "point", "filled": true, "opacity": 1, "size": 4096, "strokeWidth": 0, "color": "#993C89", "yOffset": -40, "xOffset": 2},
          "encoding": {"y": {"field": "y1", "type": "quantitative", "axis": null}, "shape": {"value": "M-0.547,-0.844H0.547V0.844H-0.547Z"}}},
        {"transform": [{"filter": "datum.group === 'Autres' && datum.serie === 'detail' && indexof(datum.q, 'TR1') === 0"}], "mark": {"type": "text", "angle": 270, "font": "Lato", "fontWeight": "bold", "fontSize": 17, "color": "white", "align": "center", "baseline": "middle", "yOffset": -40, "xOffset": 2},
          "encoding": {"y": {"field": "y1", "type": "quantitative", "axis": null}, "text": {"field": "value", "type": "quantitative", "format": ".1f"}}},
        {"transform": [{"filter": "datum.group === 'Data Mobile' && datum.serie === 'gros' && datum.q === 'TR1-2019'"}], "mark": {"type": "point", "filled": true, "opacity": 1, "size": 4096, "strokeWidth": 0, "color": "#CC9900", "yOffset": -10, "xOffset": -136.6},
          "encoding": {"y": {"field": "y1", "type": "quantitative", "axis": null}, "shape": {"value": "M-0.547,-0.688H0.547V0.688H-0.547Z"}}},
        {"transform": [{"filter": "datum.group === 'Data Mobile' && datum.serie === 'gros' && datum.q === 'TR1-2019'"}], "mark": {"type": "text", "angle": 270, "font": "Lato", "fontWeight": "bold", "fontSize": 17, "color": "black", "align": "center", "baseline": "middle", "yOffset": -10, "xOffset": -136.6},
          "encoding": {"y": {"field": "y1", "type": "quantitative", "axis": null}, "text": {"field": "value", "type": "quantitative", "format": ".1f"}}},
        {"transform": [{"filter": "datum.group === 'Data Mobile' && datum.serie === 'detail' && datum.q === 'TR1-2019'"}], "mark": {"type": "point", "filled": true, "opacity": 1, "size": 4096, "strokeWidth": 0, "color": "#993C89", "yOffset": 9, "xOffset": -131.6},
          "encoding": {"y": {"field": "y1", "type": "quantitative", "axis": null}, "shape": {"value": "M-0.547,-1H0.547V1H-0.547Z"}}},
        {"transform": [{"filter": "datum.group === 'Data Mobile' && datum.serie === 'detail' && datum.q === 'TR1-2019'"}], "mark": {"type": "text", "angle": 270, "font": "Lato", "fontWeight": "bold", "fontSize": 17, "color": "white", "align": "center", "baseline": "middle", "yOffset": 9, "xOffset": -131.6},
          "encoding": {"y": {"field": "y1", "type": "quantitative", "axis": {"orient": "right", "minExtent": 0, "maxExtent": 0, "offset": 0, "domain": true, "domainColor": "black", "domainWidth": 2, "labels": false, "ticks": false, "grid": false, "title": null}}, "text": {"field": "value", "type": "quantitative", "format": ".1f"}}}
      ]
    }
  ],
  "config": {
    "view": {"stroke": null},
    "concat": {"spacing": 0},
    "locale": {"number": {"decimal": ",", "thousands": " ", "grouping": [3], "currency": ["", ""]}}
  }
}
